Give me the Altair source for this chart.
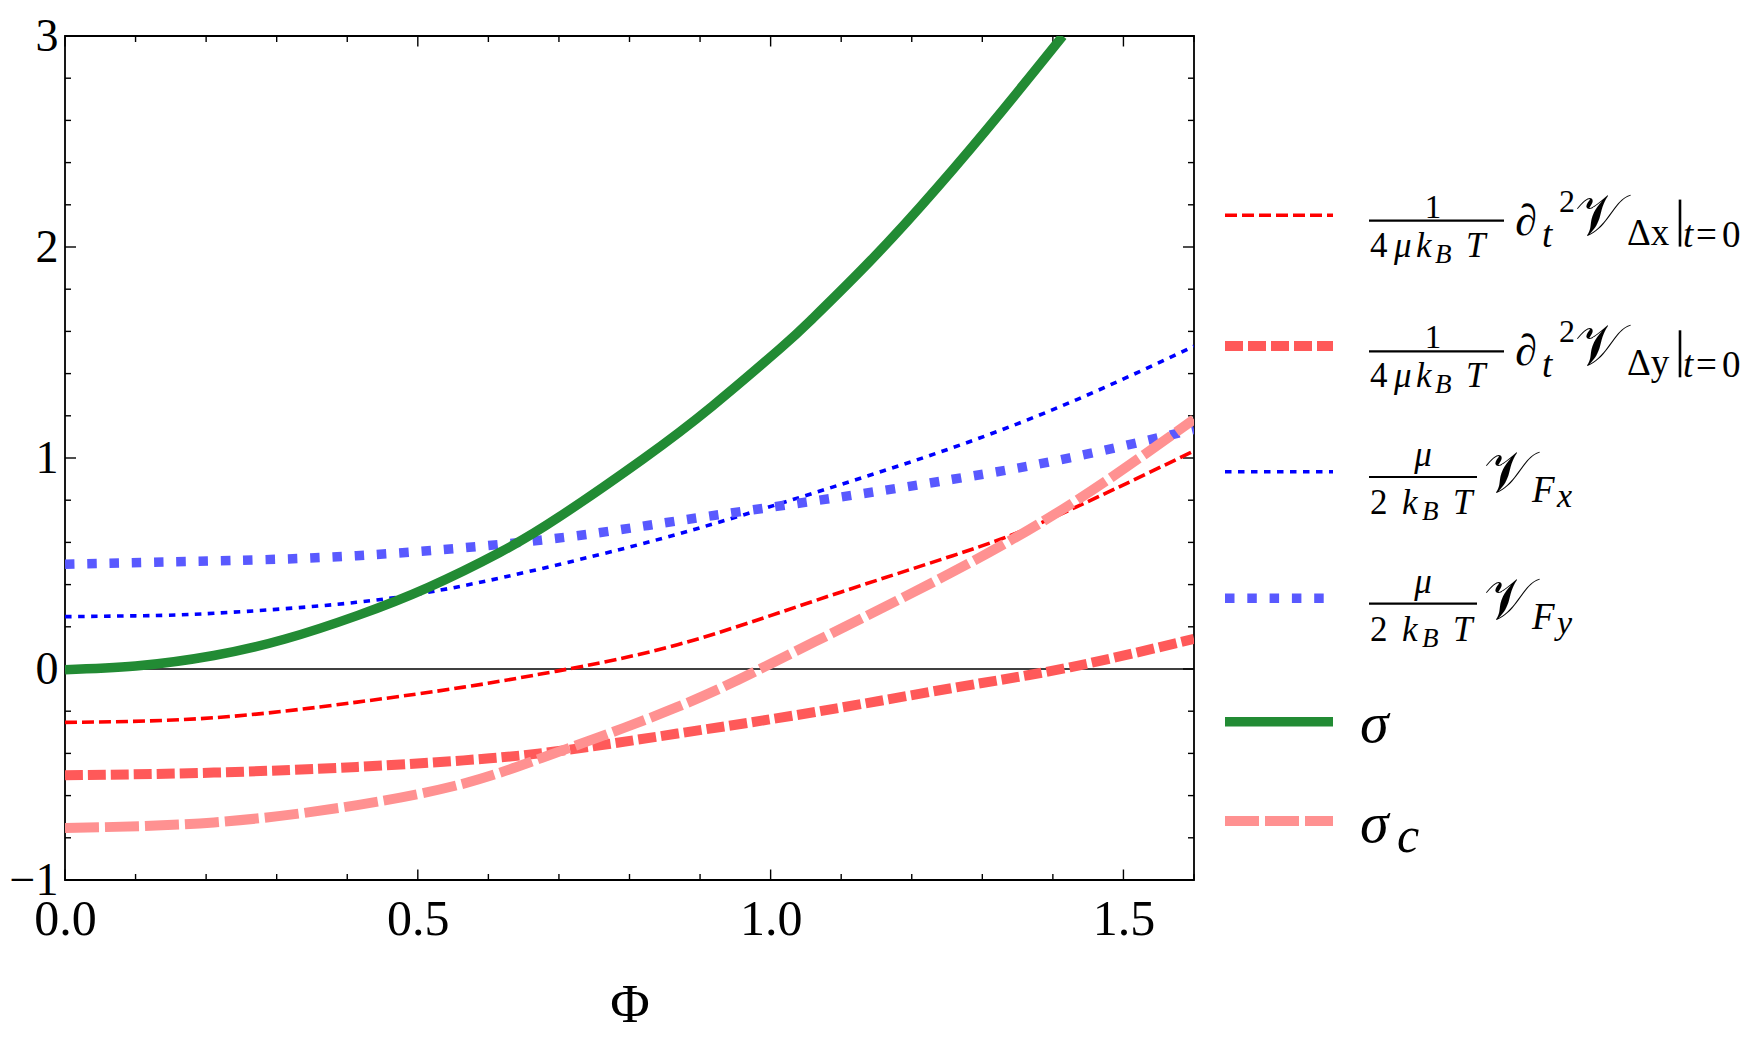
import altair as alt
import pandas as pd

# ---------------- data ----------------
phi_dx = [0.0, 0.211, 0.414, 0.565, 0.697, 0.868, 1.063, 1.258, 1.395, 1.6]
val_dx = [-0.253, -0.231, -0.157, -0.086, -0.010, 0.115, 0.324, 0.537, 0.71, 1.033]

phi_dy = [0.0, 0.211, 0.414, 0.565, 0.697, 0.868, 1.063, 1.258, 1.424, 1.6]
val_dy = [-0.504, -0.491, -0.464, -0.433, -0.390, -0.306, -0.204, -0.09, 0.008, 0.143]

phi_fx = [0.0, 0.1, 0.211, 0.413, 0.565, 0.692, 0.868, 1.063, 1.258, 1.434, 1.6]
val_fx = [0.248, 0.252, 0.264, 0.316, 0.395, 0.489, 0.639, 0.836, 1.049, 1.277, 1.53]

phi_fy = [0.0, 0.18, 0.413, 0.68, 0.868, 1.063, 1.258, 1.424, 1.6]
val_fy = [0.497, 0.51, 0.537, 0.613, 0.702, 0.797, 0.899, 1.001, 1.136]

phi_sigma = [0.0, 0.1, 0.211, 0.312, 0.414, 0.515, 0.616, 0.7, 0.819, 0.917, 1.014, 1.058, 1.143, 1.237, 1.328, 1.414]
val_sigma = [-0.003, 0.014, 0.064, 0.142, 0.253, 0.387, 0.552, 0.72, 0.995, 1.245, 1.52, 1.656, 1.94, 2.285, 2.645, 3.0]

phi_sc = [0.0, 0.211, 0.414, 0.565, 0.685, 0.868, 0.99, 1.063, 1.258, 1.434, 1.6]
val_sc = [-0.753, -0.727, -0.645, -0.543, -0.41, -0.18, 0.008, 0.13, 0.46, 0.80, 1.183]

x_labels = [0.0, 0.5, 1.0, 1.5]
y_labels = [-1, 0, 1, 2, 3]

# ---------------- layout / style ----------------
FONT = "Liberation Serif"
OX, OY = 65, 36           # page position of the plot's top-left corner
W, H = 1129, 880 - OY

series = [
    dict(phi=phi_dx, val=val_dx, color="#FF0000", width=3.6, dash=[12, 5]),
    dict(phi=phi_dy, val=val_dy, color="#FF5959", width=10, dash=[18, 5]),
    dict(phi=phi_fx, val=val_fx, color="#0000FF", width=3.6, dash=[6.5, 6.5]),
    dict(phi=phi_fy, val=val_fy, color="#5959FF", width=9.5, dash=[9.5, 12.8]),
    dict(phi=phi_sigma, val=val_sigma, color="#228B34", width=9.5),
    dict(phi=phi_sc, val=val_sc, color="#FF9191", width=10, dash=[34, 6]),
]

xscale = alt.Scale(domain=[0, 1.6], nice=False, zero=False)
yscale = alt.Scale(domain=[-1, 3], nice=False, zero=False)
xaxis = alt.Axis(values=x_labels, format=".1f", title="Φ", titleX=W / 2, titleY=141,
                 titleBaseline="alphabetic", titleAlign="center", labelPadding=14,
                 labelFlush=False, labelFontSize=50)
yaxis = alt.Axis(values=y_labels, format="d", title=None, labelPadding=7,
                 labelFlush=False, labelFontSize=46)

layers = []

# zero line
layers.append(alt.Chart(pd.DataFrame({"val": [0]})).mark_rule(color="black", strokeWidth=1.3)
              .encode(y=alt.Y("val:Q", scale=yscale, axis=yaxis)))

# inward ticks on all four sides
xt = [round(i * 0.1, 1) for i in range(17)]
yt = [round(-1 + i * 0.2, 1) for i in range(21)]
xt_major = [v for v in xt if v in x_labels]
xt_minor = [v for v in xt if v not in x_labels]
yt_major = [v for v in yt if v in y_labels]
yt_minor = [v for v in yt if v not in y_labels]


def xticks(vals, ln):
    d = pd.DataFrame({"phi": vals})
    enc_x = alt.X("phi:Q", scale=xscale, axis=xaxis)
    bot = alt.Chart(d).mark_rule(color="black", strokeWidth=1.4).encode(
        x=enc_x, y=alt.value(H), y2=alt.value(H - ln))
    top = alt.Chart(d).mark_rule(color="black", strokeWidth=1.4).encode(
        x=enc_x, y=alt.value(0), y2=alt.value(ln))
    return [bot, top]


def yticks(vals, ln):
    d = pd.DataFrame({"val": vals})
    enc_y = alt.Y("val:Q", scale=yscale, axis=yaxis)
    lft = alt.Chart(d).mark_rule(color="black", strokeWidth=1.4).encode(
        y=enc_y, x=alt.value(0), x2=alt.value(ln))
    rgt = alt.Chart(d).mark_rule(color="black", strokeWidth=1.4).encode(
        y=enc_y, x=alt.value(W), x2=alt.value(W - ln))
    return [lft, rgt]


layers += xticks(xt_major, 10.5) + xticks(xt_minor, 6)
layers += yticks(yt_major, 11) + yticks(yt_minor, 6)

# curves
for s in series:
    df = pd.DataFrame({"phi": s["phi"], "val": s["val"]})
    kw = dict(color=s["color"], strokeWidth=s["width"], interpolate="natural", clip=True)
    if s.get("dash"):
        kw["strokeDash"] = s["dash"]
    layers.append(alt.Chart(df).mark_line(**kw).encode(
        x=alt.X("phi:Q", scale=xscale, axis=xaxis),
        y=alt.Y("val:Q", scale=yscale, axis=yaxis)))

# ---------------- legend (drawn by hand) ----------------
one = pd.DataFrame({"k": [0]})


def txt(t, ox, oy, size, italic=False, align="left"):
    return alt.Chart(one).mark_text(
        text=t, font=FONT, fontSize=size, fontStyle="italic" if italic else "normal",
        align=align, baseline="alphabetic", color="black").encode(
        x=alt.value(ox - OX), y=alt.value(oy - OY))


def hbar(x1, x2, oy, w=2.2):
    return alt.Chart(one).mark_rule(color="black", strokeWidth=w).encode(
        x=alt.value(x1 - OX), x2=alt.value(x2 - OX), y=alt.value(oy - OY))


def vbar(ox, y1, y2, w=2.6):
    return alt.Chart(one).mark_rule(color="black", strokeWidth=w).encode(
        x=alt.value(ox - OX), y=alt.value(y1 - OY), y2=alt.value(y2 - OY))


row_y = [215.3, 346, 471.7, 598.3, 721.7, 821]
SX1, SX2 = 1225, 1333
for s, ry in zip(series, row_y):
    kw = dict(color=s["color"], strokeWidth=s["width"])
    if s.get("dash"):
        kw["strokeDash"] = s["dash"]
    layers.append(alt.Chart(one).mark_rule(**kw).encode(
        x=alt.value(SX1 - OX), x2=alt.value(SX2 - OX), y=alt.value(ry - OY)))

BX = 1369
# entries 1, 2
for sub, ry in zip(["Δx", "Δy"], row_y[:2]):
    by = ry + 5.3
    layers += [
        hbar(BX, BX + 135, by),
        txt("1", BX + 64, by - 3, 33, align="center"),
        txt("4", BX + 1, by + 36, 35),
        txt("μ", BX + 25, by + 36, 35, italic=True),
        txt("k", BX + 47, by + 36, 35, italic=True),
        txt("B", BX + 66, by + 42, 27, italic=True),
        txt("T", BX + 97, by + 36, 35, italic=True),
        txt("∂", BX + 146, by + 14, 44),
        txt("t", BX + 173, by + 26, 37, italic=True),
        txt("2", BX + 190, by - 9, 32),
        txt("𝒱", BX + 206, by + 14, 58),
        txt(sub, BX + 258, by + 24, 37),
        vbar(BX + 311, by - 21, by + 26),
        txt("t", BX + 314, by + 26, 37, italic=True),
        txt("=", BX + 327, by + 26, 37),
        txt("0", BX + 353, by + 26, 37),
    ]
# entries 3, 4
for sub, ry in zip(["x", "y"], row_y[2:4]):
    by = ry + 5.3
    layers += [
        hbar(BX, BX + 108, by),
        txt("μ", BX + 54, by - 11, 35, italic=True, align="center"),
        txt("2", BX + 1, by + 37, 35),
        txt("k", BX + 33, by + 37, 35, italic=True),
        txt("B", BX + 53, by + 43, 27, italic=True),
        txt("T", BX + 84, by + 37, 35, italic=True),
        txt("𝒱", BX + 115, by + 15, 58),
        txt("F", BX + 163, by + 25, 37, italic=True),
        txt(sub, BX + 188, by + 30, 34, italic=True),
    ]
# entries 5, 6
layers.append(txt("σ", 1360, row_y[4] + 20, 58, italic=True))
layers.append(txt("σ", 1360, row_y[5] + 20.7, 58, italic=True))
layers.append(txt("c", 1397, row_y[5] + 30.7, 50, italic=True))

chart = alt.layer(*layers).properties(
    width=W, height=H,
    padding={"left": OX - 8, "top": OY - 8, "right": 1740 - (OX - 8) - W, "bottom": 160},
    autosize=alt.AutoSizeParams(type="none"),
).configure_view(stroke="black", strokeWidth=1.8).configure_axis(
    ticks=False, domain=False, grid=False, labelFont=FONT,
    labelColor="black", titleFont=FONT, titleFontSize=54, titleFontWeight="normal",
    titleColor="black")

chart.save("out.html", embed_options={"renderer": "svg", "actions": False})
